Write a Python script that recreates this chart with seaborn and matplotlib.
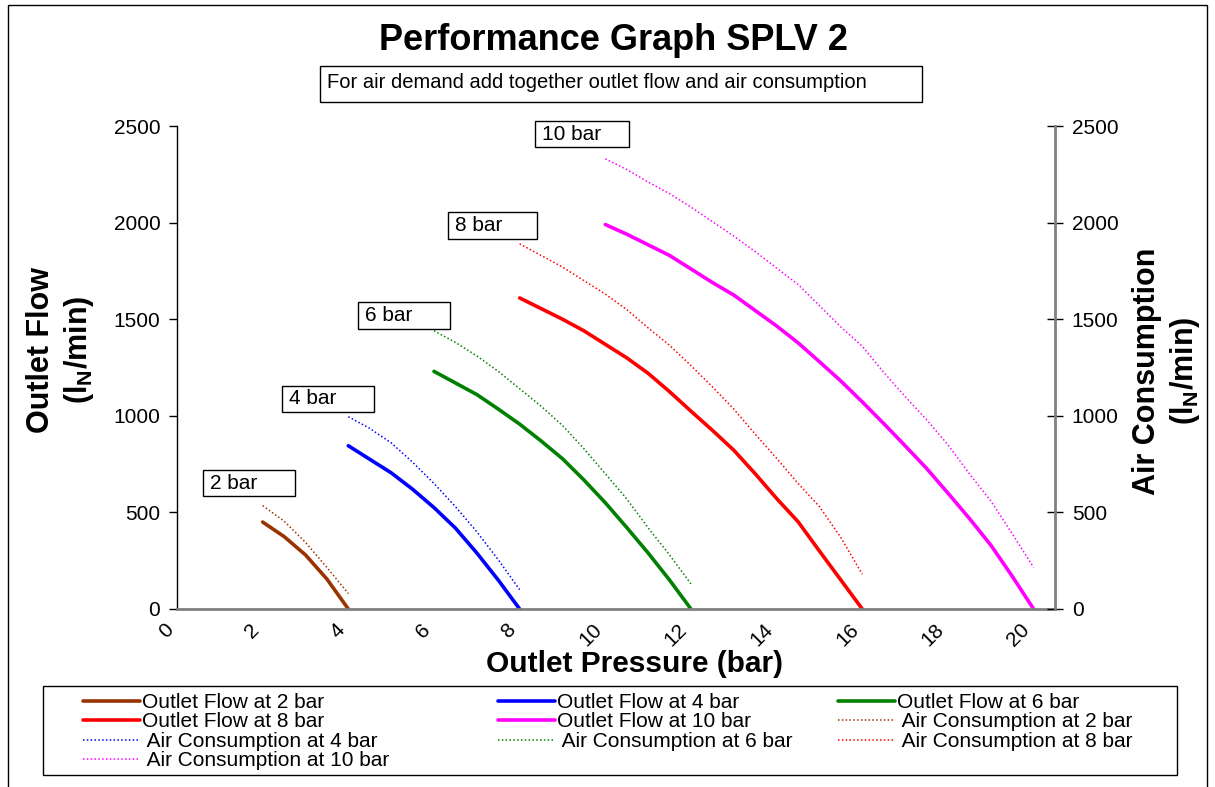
import matplotlib
matplotlib.use("Agg")
import matplotlib.pyplot as plt
import seaborn as sns
from matplotlib.patches import Rectangle

# data (outlet pressure in bar, flows in lN/min)
p_2bar = [2, 2.5, 3, 3.5, 4]
flow_2bar = [450, 375, 280, 155, 0]
air_2bar = [535, 455, 345, 215, 80]

p_4bar = [4, 4.5, 5, 5.5, 6, 6.5, 7, 7.5, 8]
flow_4bar = [845, 775, 705, 620, 525, 419, 290, 150, 0]
air_4bar = [995, 935, 860, 760, 650, 530, 400, 255, 100]

p_6bar = [6, 6.5, 7, 7.5, 8, 8.5, 9, 9.5, 10, 10.5, 11, 11.5, 12]
flow_6bar = [1230, 1170, 1110, 1035, 957, 870, 778, 668, 550, 422, 290, 150, 0]
air_6bar = [1440, 1380, 1310, 1230, 1140, 1050, 950, 830, 700, 570, 420, 280, 130]

p_8bar = [8, 8.5, 9, 9.5, 10, 10.5, 11, 11.5, 12, 12.5, 13, 13.5, 14, 14.5, 15, 15.5, 16]
flow_8bar = [1610, 1555, 1500, 1440, 1370, 1300, 1220, 1125, 1024, 925, 822, 700, 572, 452, 300, 150, 0]
air_8bar = [1890, 1830, 1770, 1700, 1630, 1550, 1455, 1365, 1260, 1150, 1035, 905, 780, 650, 530, 370, 180]

p_10bar = [10, 10.5, 11, 11.5, 12, 12.5, 13, 13.5, 14, 14.5, 15, 15.5, 16, 16.5, 17, 17.5, 18, 18.5, 19, 19.5, 20]
flow_10bar = [1990, 1940, 1885, 1830, 1760, 1690, 1625, 1545, 1465, 1378, 1280, 1180, 1072,
              960, 845, 728, 600, 469, 331, 170, 0]
air_10bar = [2330, 2275, 2210, 2150, 2080, 2005, 1930, 1850, 1765, 1680, 1570, 1460, 1360,
             1225, 1100, 980, 850, 700, 560, 390, 215]

pressures = ["2 bar", "4 bar", "6 bar", "8 bar", "10 bar"]
colors = ["#993300", "#0000FF", "#008000", "#FF0000", "#FF00FF"]

series = [
    (p_2bar, flow_2bar, air_2bar),
    (p_4bar, flow_4bar, air_4bar),
    (p_6bar, flow_6bar, air_6bar),
    (p_8bar, flow_8bar, air_8bar),
    (p_10bar, flow_10bar, air_10bar),
]

# label boxes (left, bottom, width, height) in data units
label_boxes = [(0.61, 585, 2.14, 134), (2.45, 1020, 2.15, 134), (4.22, 1449, 2.15, 140),
               (6.32, 1915, 2.08, 140), (8.36, 2391, 2.19, 135)]

sns.set_style("white")
plt.rcParams["font.family"] = ["Liberation Sans", "DejaVu Sans"]
plt.rcParams["text.color"] = "black"
plt.rcParams["axes.labelcolor"] = "black"
plt.rcParams["xtick.color"] = "black"
plt.rcParams["ytick.color"] = "black"

fig = plt.figure(figsize=(12.15, 7.87), dpi=100)
ax = fig.add_axes([177 / 1215, 1 - 609 / 787, (1055 - 177) / 1215, (609 - 126) / 787])

flow_handles = []
air_handles = []
for (p, flow, air), name, col in zip(series, pressures, colors):
    sns.lineplot(x=p, y=flow, ax=ax, color=col, lw=2.6, label="Outlet Flow at " + name)
    flow_handles.append(ax.lines[-1])
for (p, flow, air), name, col in zip(series, pressures, colors):
    sns.lineplot(x=p, y=air, ax=ax, color=col, lw=1.1, linestyle=(0, (1, 1.5)),
                 label=" Air Consumption at " + name)
    air_handles.append(ax.lines[-1])
ax.get_legend().remove()

ax.set_xlim(0, 20.5)
ax.set_ylim(0, 2500)
ax.set_xticks(range(0, 21))
ax.set_xticklabels([str(i) if i % 2 == 0 else "" for i in range(0, 21)],
                   rotation=45, ha="right", va="top", fontsize=15)
ax.set_yticks(range(0, 2501, 500))
ax.tick_params(axis="y", labelsize=15, direction="out", length=6, width=1, pad=6)
ax.tick_params(axis="x", direction="out", length=6, width=1, pad=2)
ax.set_xlabel("")
ax.set_ylabel("")
for s in ["top", "right"]:
    ax.spines[s].set_visible(False)
ax.spines["left"].set_color("black")
ax.spines["left"].set_linewidth(1)
ax.spines["bottom"].set_color("#808080")
ax.spines["bottom"].set_linewidth(2)

# right axis for air consumption
ax2 = ax.twinx()
ax2.set_ylim(0, 2500)
ax2.set_yticks(range(0, 2501, 500))
ax2.tick_params(axis="y", labelsize=15, direction="inout", length=12, width=1, pad=6)
for s in ["top", "left", "bottom"]:
    ax2.spines[s].set_visible(False)
ax2.spines["right"].set_color("#808080")
ax2.spines["right"].set_linewidth(2)

# pressure label boxes
for (x0, y0, w, h), name in zip(label_boxes, pressures):
    ax.add_patch(Rectangle((x0, y0), w, h, facecolor="white", edgecolor="black",
                           lw=1, clip_on=False, zorder=5))
    ax.text(x0 + 0.17, y0 + h / 2, name, fontsize=15, va="center", ha="left",
            zorder=6, clip_on=False)

# titles and axis labels
fig.text(0.505, 0.949, "Performance Graph SPLV 2", fontsize=26, fontweight="bold",
         ha="center", va="center")
fig.patches.append(Rectangle((320 / 1215, 1 - 102 / 787), 602 / 1215, 36 / 787,
                             transform=fig.transFigure, facecolor="white",
                             edgecolor="black", lw=1))
fig.text(327 / 1215, 1 - 83 / 787, "For air demand add together outlet flow and air consumption",
         fontsize=14.5, ha="left", va="center")
fig.text(635 / 1215, 1 - 664 / 787, "Outlet Pressure (bar)", fontsize=21.5,
         fontweight="bold", ha="center", va="center")
fig.text(61 / 1215, 1 - 350 / 787, "Outlet Flow\n(l$_\\mathregular{N}$/min)", fontsize=22,
         fontweight="bold", ha="center", va="center", rotation=90, multialignment="center",
         linespacing=1.2)
fig.text(1167 / 1215, 1 - 371 / 787, "Air Consumption\n(l$_\\mathregular{N}$/min)", fontsize=22,
         fontweight="bold", ha="center", va="center", rotation=90, multialignment="center",
         linespacing=1.2)

# outer chart frame
fig.patches.append(Rectangle((8 / 1215, -0.01), 1199 / 1215, 1.01 - 5 / 787,
                             transform=fig.transFigure, fill=False, edgecolor="black", lw=1))

# legend frame, then one legend per column (row-wise order like the original)
fig.patches.append(Rectangle((43 / 1215, 1 - 775 / 787), 1134 / 1215, 89 / 787,
                             transform=fig.transFigure, facecolor="white",
                             edgecolor="black", lw=1))
columns = [
    ([flow_handles[0], flow_handles[3], air_handles[1], air_handles[4]], 83),
    ([flow_handles[1], flow_handles[4], air_handles[2]], 498),
    ([flow_handles[2], air_handles[0], air_handles[3]], 838),
]
for handles, x_px in columns:
    fig.legend(handles=handles, labels=[h.get_label() for h in handles],
               loc="upper left", bbox_to_anchor=(x_px / 1215, 1 - 693 / 787),
               fontsize=15, frameon=False, handlelength=2.75, handletextpad=0.1,
               labelspacing=0.02, borderaxespad=0, borderpad=0)

fig.savefig("out.png", dpi=100)
